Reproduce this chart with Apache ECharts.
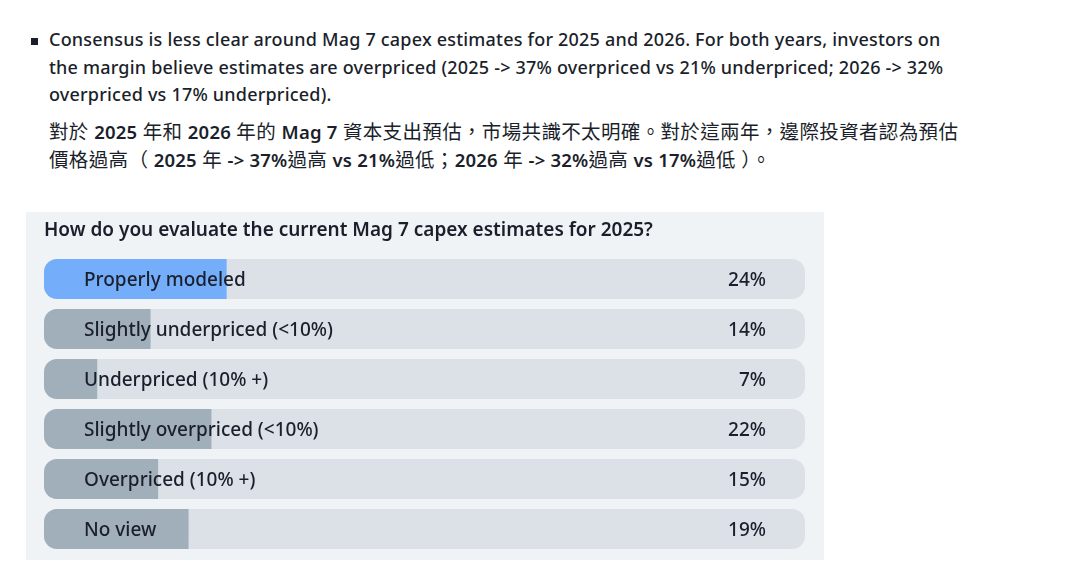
<!DOCTYPE html>
<html>
<head>
<meta charset="utf-8">
<script src="https://cdn.jsdelivr.net/npm/echarts@6/dist/echarts.min.js"></script>
<style>
  html, body { margin: 0; padding: 0; background: #ffffff; width: 1065px; height: 584px; overflow: hidden; }
  .txt { position: absolute; left: 49px; font-family: "Noto Sans", "Noto Sans CJK TC", sans-serif; color: #1b1f2b; white-space: nowrap; }
  #en { top: 26px; font-size: 18px; line-height: 27.5px; font-weight: 500; letter-spacing: 0.2px; }
  #zh { top: 118px; font-size: 19.5px; line-height: 28px; font-weight: 400; letter-spacing: 0.35px; }
  #zh b { font-weight: 600; font-size: 18.5px; letter-spacing: 0.2px; }
  #bullet { position: absolute; left: 31px; top: 38px; width: 7px; height: 7px; background: #1b1f2b; }
  #chart { position: absolute; left: 26px; top: 212px; width: 798px; height: 348px; background: #f0f3f6; }
</style>
</head>
<body>
<div id="bullet"></div>
<div id="en" class="txt">Consensus is less clear around Mag 7 capex estimates for 2025 and 2026. For both years, investors on<br>the margin believe estimates are overpriced (2025 -&gt; 37% overpriced vs 21% underpriced; 2026 -&gt; 32%<br>overpriced vs 17% underpriced).</div>
<div id="zh" class="txt">對於 <b>2025</b> 年和 <b>2026</b> 年的 <b>Mag 7</b> 資本支出預估，市場共識不太明確。對於這兩年，邊際投資者認為預估<br>價格過高（ <b>2025</b> 年 <b>-&gt; 37%</b>過高 <b>vs 21%</b>過低；<b>2026</b> 年 <b>-&gt; 32%</b>過高 <b>vs 17%</b>過低 ）。</div>
<div id="chart"></div>
<script>
const titleText = 'How do you evaluate the current Mag 7 capex estimates for 2025?';
const categories = ['Properly modeled', 'Slightly underpriced (<10%)', 'Underpriced (10% +)', 'Slightly overpriced (<10%)', 'Overpriced (10% +)', 'No view'];
const values = [24, 14, 7, 22, 15, 19];
const scaleMax = 100;

const font = '"Noto Sans", sans-serif';
const txtColor = '#1b1f2b';
const chart = echarts.init(document.getElementById('chart'), null, { renderer: 'canvas' });
const fullRow = categories.map(() => scaleMax);
chart.setOption({
  animation: false,
  title: {
    text: titleText, left: 13, top: 4,
    textStyle: { fontFamily: font, fontSize: 19, fontWeight: 600, color: txtColor }
  },
  grid: { left: 18, right: 19, top: 42, bottom: 6 },
  xAxis: { type: 'value', min: 0, max: scaleMax, show: false },
  yAxis: { type: 'category', data: categories, inverse: true, show: false },
  series: [
    {
      type: 'bar', barWidth: 40, barGap: '-100%',
      data: fullRow,
      itemStyle: { color: '#dbe1e7', borderRadius: 13 },
      silent: true, z: 1
    },
    {
      type: 'bar', barWidth: 40, barGap: '-100%',
      data: values,
      itemStyle: {
        borderRadius: [13, 0, 0, 13],
        color: p => p.dataIndex === 0 ? '#74aefb' : '#a1afba'
      },
      z: 2
    },
    {
      type: 'bar', barWidth: 40, barGap: '-100%',
      data: fullRow,
      itemStyle: { color: 'rgba(0,0,0,0)' },
      label: {
        show: true, position: 'insideLeft', distance: 40, offset: [0, 1.5],
        formatter: p => categories[p.dataIndex],
        fontFamily: font, fontSize: 19, fontWeight: 500, color: txtColor
      },
      silent: true, z: 3
    },
    {
      type: 'bar', barWidth: 40, barGap: '-100%',
      data: fullRow,
      itemStyle: { color: 'rgba(0,0,0,0)' },
      label: {
        show: true, position: 'insideRight', distance: 39, offset: [0, 1.5],
        formatter: p => values[p.dataIndex] + '%',
        fontFamily: font, fontSize: 19, fontWeight: 500, color: txtColor
      },
      silent: true, z: 4
    }
  ]
});
</script>
</body>
</html>
